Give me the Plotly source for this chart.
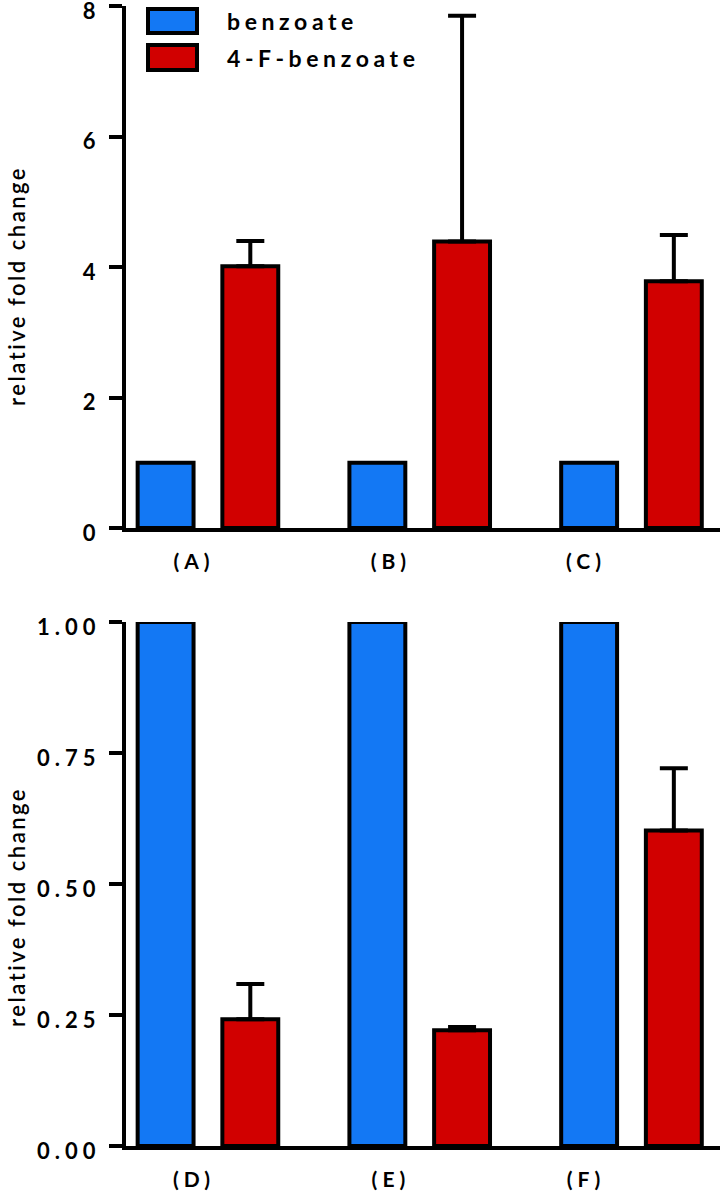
import plotly.graph_objects as go

# ---- data ----
groups = [0, 1, 2]
labels_top = ["(A)", "(B)", "(C)"]
labels_bottom = ["(D)", "(E)", "(F)"]
series_names = ["benzoate", "4-F-benzoate"]

benzoate_top = [1.0, 1.0, 1.0]
fbenz_top = [4.01, 4.39, 3.78]
fbenz_top_err = [0.39, 3.46, 0.71]

benzoate_bottom = [1.0, 1.0, 1.0]
fbenz_bottom = [0.242, 0.221, 0.602]
fbenz_bottom_err = [0.067, 0.006, 0.119]

top_ticks = [0, 2, 4, 6, 8]
bottom_ticks = [0, 0.25, 0.5, 0.75, 1.0]

# ---- style ----
BLUE = "#1378F4"
RED = "#D10000"
FONT = "Lato"
W, H = 720, 1194
ML, MR, MT, MB = 126, 0, 6, 48
label_pos = [-0.066, 0.864, 1.785]


def spaced(t, px=5):
    return f"<span style='letter-spacing:{px}px'>{t}</span>"


fig = go.Figure()


def add_pair(xa, ya, blue, red, err):
    fig.add_trace(go.Bar(x=groups, y=blue, name=series_names[0], xaxis=xa, yaxis=ya,
                         marker=dict(color=BLUE, line=dict(color="black", width=4)),
                         cliponaxis=False, showlegend=False))
    fig.add_trace(go.Bar(x=groups, y=red, name=series_names[1], xaxis=xa, yaxis=ya,
                         marker=dict(color=RED, line=dict(color="black", width=4)),
                         error_y=dict(type="data", array=err, arrayminus=[0] * len(err),
                                      symmetric=False, color="black", thickness=4, width=14),
                         cliponaxis=False, showlegend=False))


add_pair("x", "y", benzoate_top, fbenz_top, fbenz_top_err)
add_pair("x2", "y2", benzoate_bottom, fbenz_bottom, fbenz_bottom_err)

plot_h = H - MT - MB
pb = H - MB  # plot bottom pixel
top_dom = [(pb - 528) / plot_h, 1.0]
bot_dom = [0.0, (pb - 622) / plot_h]

xcommon = dict(range=[-0.387, 2.418], showline=True, linewidth=4, linecolor="black",
               ticks="", tickmode="array", tickvals=label_pos, showgrid=False, zeroline=False,
               tickfont=dict(family=FONT, size=21, color="black", weight="bold"),
               ticklabelstandoff=12, ticklabeloverflow="allow", automargin=False)
ycommon = dict(showline=True, linewidth=4, linecolor="black", ticks="outside", ticklen=13,
               tickwidth=4, tickcolor="black", showgrid=False, zeroline=False,
               tickfont=dict(family=FONT, size=22, color="black", weight="bold"),
               ticklabelstandoff=4, ticklabelshift=5, ticklabeloverflow="allow",
               automargin=False)

fig.update_layout(
    width=W, height=H,
    margin=dict(l=ML, r=MR, t=MT, b=MB, autoexpand=False),
    paper_bgcolor="white", plot_bgcolor="white",
    barmode="group", bargap=0.2, bargroupgap=0.34,
    xaxis=dict(xcommon, domain=[0, 1], anchor="y", ticktext=[spaced(t) for t in labels_top]),
    yaxis=dict(ycommon, domain=top_dom, anchor="x", range=[0, 8], tickvals=top_ticks,
               ticktext=[spaced(str(t)) for t in top_ticks]),
    xaxis2=dict(xcommon, domain=[0, 1], anchor="y2",
                ticktext=[spaced(t) for t in labels_bottom]),
    yaxis2=dict(ycommon, domain=bot_dom, anchor="x2", range=[0, 1], tickvals=bottom_ticks,
                ticktext=[spaced(f"{t:.2f}") for t in bottom_ticks]),
)

# y-axis titles
for yc in [(pb - 286) / plot_h, (pb - 907) / plot_h]:
    fig.add_annotation(text=spaced("relative fold change", 2.5), xref="paper", yref="paper",
                       x=(16 - ML) / (W - ML - MR), y=yc, textangle=-90, showarrow=False,
                       xanchor="center", yanchor="middle",
                       font=dict(family=FONT, size=22, color="black", weight=600))

# legend (drawn manually)
legend_rows = [(series_names[0], BLUE, MT - 9, MT - 33), (series_names[1], RED, MT - 45, MT - 70)]
for name, col, y0, y1 in legend_rows:
    fig.add_shape(type="rect", xref="paper", yref="paper", xsizemode="pixel", ysizemode="pixel",
                  xanchor=0, yanchor=1, x0=148 - ML, x1=197 - ML, y0=y0, y1=y1,
                  fillcolor=col, line=dict(color="black", width=4))
    fig.add_annotation(text=spaced(name, 4.6), xref="paper", yref="paper",
                       x=(225 - ML) / (W - ML - MR),
                       y=1, yshift=(y0 + y1) / 2, xanchor="left", yanchor="middle",
                       showarrow=False,
                       font=dict(family=FONT, size=23, color="black", weight="bold"))

fig.write_html("out.html", post_script="document.body.style.margin='0';",
               config={"displayModeBar": False})
